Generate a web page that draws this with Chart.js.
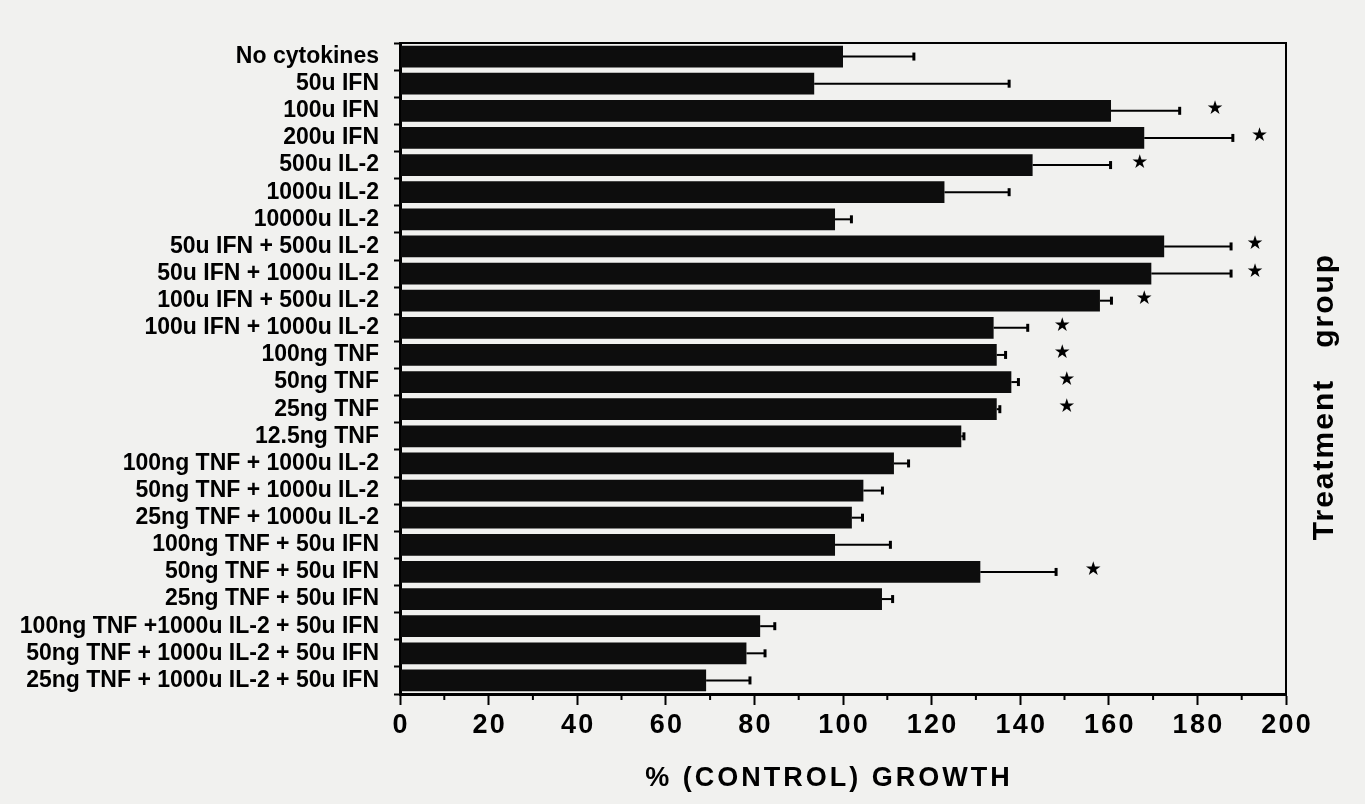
<!DOCTYPE html>
<html>
<head>
<meta charset="utf-8">
<script src="https://cdn.jsdelivr.net/npm/chart.js@4.4.0/dist/chart.umd.min.js"></script>
<style>
    body { margin: 0; background: #f1f1ef; }
    canvas { display: block; }
</style>
</head>
<body>
<canvas id="growth" width="1365" height="804"></canvas>
<script>
const groups = [
    'No cytokines', '50u IFN', '100u IFN', '200u IFN', '500u IL-2', '1000u IL-2', '10000u IL-2',
    '50u IFN + 500u IL-2', '50u IFN + 1000u IL-2', '100u IFN + 500u IL-2', '100u IFN + 1000u IL-2',
    '100ng TNF', '50ng TNF', '25ng TNF', '12.5ng TNF',
    '100ng TNF + 1000u IL-2', '50ng TNF + 1000u IL-2', '25ng TNF + 1000u IL-2',
    '100ng TNF + 50u IFN', '50ng TNF + 50u IFN', '25ng TNF + 50u IFN',
    '100ng TNF +1000u IL-2 + 50u IFN', '50ng TNF + 1000u IL-2 + 50u IFN', '25ng TNF + 1000u IL-2 + 50u IFN'
];
const growth = [100, 93.5, 160.5, 168, 142.8, 122.9, 98.2, 172.5, 169.6, 158, 134, 134.7,
    138, 134.7, 126.7, 111.5, 104.6, 102, 98.2, 131, 108.8, 81.3, 78.2, 69.1];
const sem = [16, 44, 15.5, 20, 17.6, 14.6, 3.7, 15.1, 18, 2.6, 7.7, 2,
    1.6, 0.7, 0.6, 3.3, 4.3, 2.4, 12.5, 17.1, 2.4, 3.3, 4.2, 9.9];
// where the significance stars sit (x value), null = no star
const starAt = [null, null, 184, 194, 167, null, null, 193, 193, 168, 149.5, 149.5,
    150.5, 150.5, null, null, null, null, null, 156.5, null, null, null, null];

const xTitle = '% (CONTROL) GROWTH';
const yTitle = 'Treatment   group';
const FONT = "'Liberation Sans', Arial, Helvetica, sans-serif";

const extras = {
    id: 'extras',
    afterDraw(chart) {
        const ctx = chart.ctx;
        const x = chart.scales.x;
        const y = chart.scales.y;
        const a = chart.chartArea;
        ctx.save();
        ctx.strokeStyle = '#000';
        ctx.fillStyle = '#000';

        // error bars + stars
        growth.forEach((v, i) => {
            const yc = y.getPixelForValue(i);
            const x0 = x.getPixelForValue(v);
            const x1 = x.getPixelForValue(v + sem[i]);
            ctx.lineWidth = 2;
            ctx.beginPath();
            ctx.moveTo(x0, yc);
            ctx.lineTo(x1, yc);
            ctx.stroke();
            ctx.lineWidth = 3;
            ctx.beginPath();
            ctx.moveTo(x1, yc - 4);
            ctx.lineTo(x1, yc + 4);
            ctx.stroke();
            if (starAt[i] !== null) {
                ctx.font = "19px 'DejaVu Sans'";
                ctx.textAlign = 'center';
                ctx.textBaseline = 'middle';
                ctx.fillText('★', x.getPixelForValue(starAt[i]), yc - 2);
            }
        });

        // minor ticks on x axis
        ctx.lineWidth = 2;
        for (let v = 10; v < 200; v += 20) {
            const px = x.getPixelForValue(v);
            ctx.beginPath();
            ctx.moveTo(px, a.bottom);
            ctx.lineTo(px, a.bottom + 6);
            ctx.stroke();
        }

        // frame
        ctx.lineWidth = 2;
        ctx.strokeRect(a.left, a.top, a.right - a.left, a.bottom - a.top);

        // titles
        ctx.letterSpacing = '3px';
        ctx.font = 'bold 27px ' + FONT;
        ctx.textAlign = 'center';
        ctx.textBaseline = 'alphabetic';
        ctx.fillText(xTitle, (a.left + a.right) / 2 - 14, a.bottom + 92);

        ctx.letterSpacing = '2px';
        ctx.font = 'bold 30px ' + FONT;
        ctx.translate(a.right + 47, (a.top + a.bottom) / 2 + 28);
        ctx.rotate(-Math.PI / 2);
        ctx.fillText(yTitle, 0, 0);
        ctx.restore();
    }
};

new Chart(document.getElementById('growth'), {
    type: 'bar',
    data: {
        labels: groups,
        datasets: [{
            data: growth,
            backgroundColor: '#0d0d0d',
            borderWidth: 0,
            barPercentage: 0.8,
            categoryPercentage: 1
        }]
    },
    options: {
        indexAxis: 'y',
        responsive: false,
        animation: false,
        layout: { padding: { top: 43, right: 79, bottom: 0, left: 0 } },
        plugins: {
            legend: { display: false },
            tooltip: { enabled: false }
        },
        scales: {
            x: {
                min: 0,
                max: 200,
                afterFit: (s) => { s.height = 110; },
                border: { color: '#000', width: 3 },
                grid: {
                    drawOnChartArea: false,
                    tickLength: 11,
                    tickWidth: 2,
                    tickColor: (c) => (c.tick && c.tick.value % 20 === 0) ? '#000' : 'rgba(0,0,0,0)'
                },
                ticks: {
                    stepSize: 10,
                    autoSkip: false,
                    maxRotation: 0,
                    padding: 4,
                    color: '#000',
                    font: { family: FONT, size: 27, weight: 'bold' },
                    callback: (v) => v % 20 === 0 ? String(v).split('').join('\u200A') : ''
                }
            },
            y: {
                afterFit: (s) => { s.width = 400; },
                border: { color: '#000', width: 3 },
                grid: {
                    drawOnChartArea: false,
                    offset: true,
                    tickLength: 6,
                    tickWidth: 2,
                    tickColor: '#000'
                },
                ticks: {
                    autoSkip: false,
                    padding: 15,
                    color: '#000',
                    font: { family: FONT, size: 23, weight: 'bold' }
                }
            }
        }
    },
    plugins: [extras]
});
</script>
</body>
</html>
